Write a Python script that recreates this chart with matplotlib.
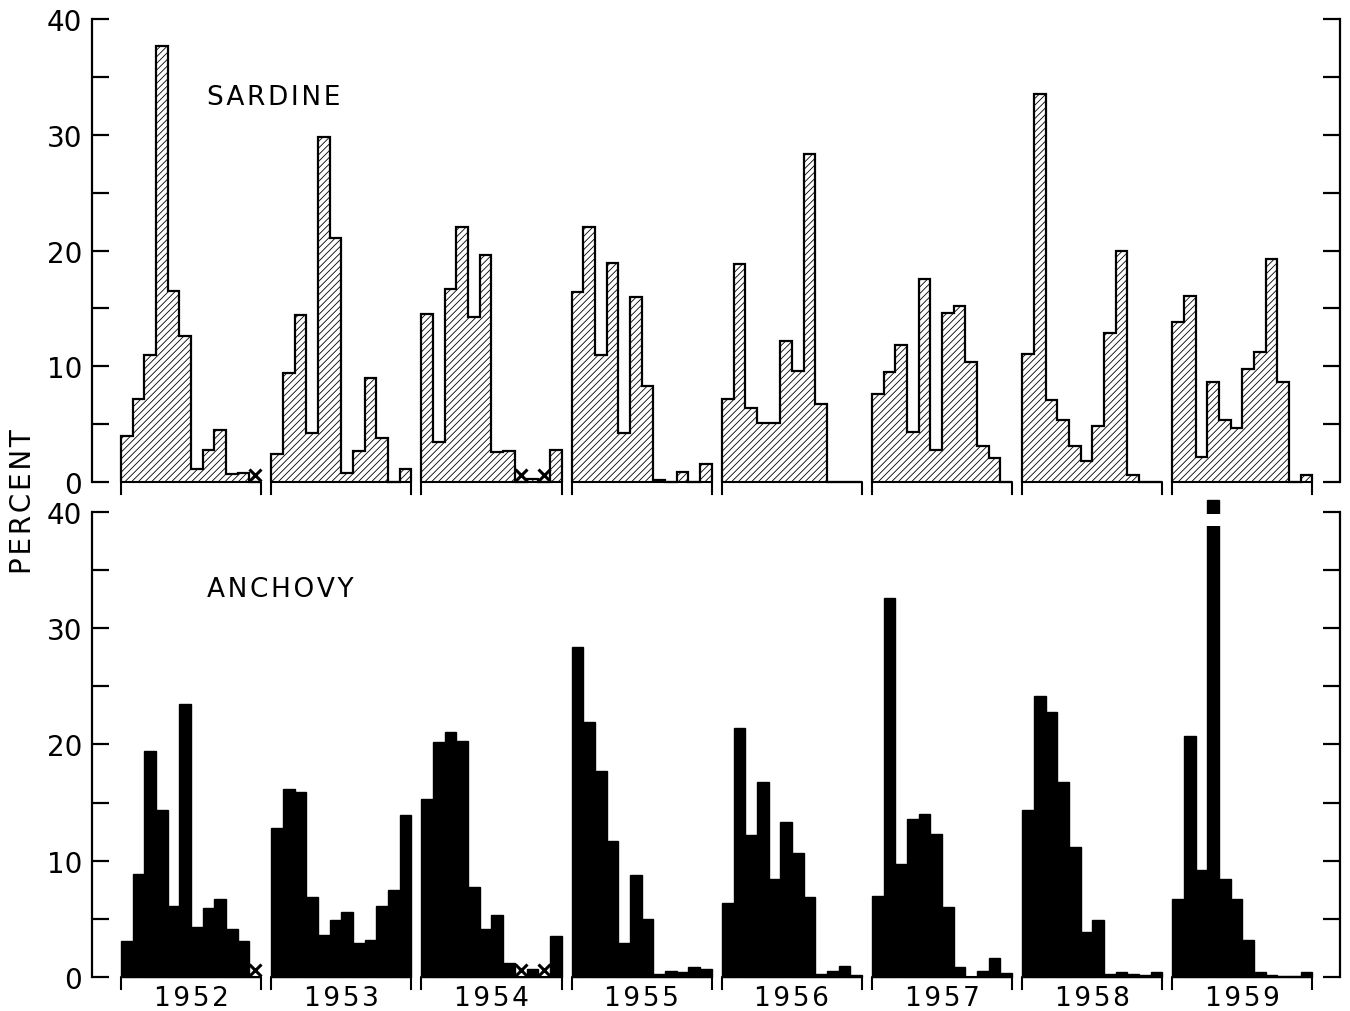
import numpy as np
import matplotlib
matplotlib.use("Agg")
import matplotlib.pyplot as plt
from matplotlib.patches import Rectangle

# monthly percentages, Jan..Dec; nan = no sample (drawn as "x")
years = [1952, 1953, 1954, 1955, 1956, 1957, 1958, 1959]

sardine_1952 = [4.0, 7.2, 11.0, 37.7, 16.5, 12.6, 1.1, 2.8, 4.5, 0.7, 0.8, np.nan]
sardine_1953 = [2.4, 9.4, 14.4, 4.2, 29.8, 21.1, 0.8, 2.7, 9.0, 3.8, 0.0, 1.1]
sardine_1954 = [14.5, 3.5, 16.7, 22.0, 14.3, 19.6, 2.6, 2.7, np.nan, 0.3, np.nan, 2.8]
sardine_1955 = [16.4, 22.0, 11.0, 18.9, 4.2, 16.0, 8.3, 0.15, 0.0, 0.85, 0.0, 1.6]
sardine_1956 = [7.2, 18.8, 6.4, 5.1, 5.1, 12.2, 9.6, 28.3, 6.7, 0.0, 0.0, 0.0]
sardine_1957 = [7.6, 9.5, 11.8, 4.3, 17.5, 2.8, 14.6, 15.2, 10.4, 3.1, 2.1, 0.0]
sardine_1958 = [11.1, 33.5, 7.1, 5.4, 3.1, 1.8, 4.8, 12.9, 20.0, 0.6, 0.0, 0.0]
sardine_1959 = [13.8, 16.1, 2.2, 8.6, 5.4, 4.7, 9.8, 11.2, 19.3, 8.6, 0.0, 0.6]

anchovy_1952 = [3.1, 8.9, 19.4, 14.4, 6.1, 23.5, 4.3, 5.9, 6.7, 4.1, 3.1, np.nan]
anchovy_1953 = [12.8, 16.2, 15.9, 6.9, 3.6, 4.9, 5.6, 2.9, 3.2, 6.1, 7.5, 13.9]
anchovy_1954 = [15.3, 20.2, 21.1, 20.3, 7.7, 4.1, 5.3, 1.2, np.nan, 0.7, np.nan, 3.5]
anchovy_1955 = [28.4, 21.9, 17.7, 11.7, 2.95, 8.8, 5.0, 0.3, 0.5, 0.4, 0.85, 0.7]
anchovy_1956 = [6.4, 21.4, 12.2, 16.8, 8.4, 13.3, 10.7, 6.9, 0.3, 0.55, 0.95, 0.2]
anchovy_1957 = [7.0, 32.6, 9.7, 13.6, 14.0, 12.3, 6.0, 0.9, 0.0, 0.5, 1.6, 0.35]
anchovy_1958 = [14.4, 24.2, 22.8, 16.8, 11.2, 3.9, 4.9, 0.25, 0.4, 0.3, 0.15, 0.4]
anchovy_1959 = [6.7, 20.7, 9.2, 41.0, 8.4, 6.7, 3.15, 0.4, 0.2, 0.1, 0.1, 0.4]

sardine = [sardine_1952, sardine_1953, sardine_1954, sardine_1955,
           sardine_1956, sardine_1957, sardine_1958, sardine_1959]
anchovy = [anchovy_1952, anchovy_1953, anchovy_1954, anchovy_1955,
           anchovy_1956, anchovy_1957, anchovy_1958, anchovy_1959]

YMAX = 40
PITCH = 12.87   # year block spacing in month units
HAIR = '\u200a'

plt.rcParams['hatch.linewidth'] = 0.6
plt.rcParams['font.family'] = ['DejaVu Sans']

fig = plt.figure(figsize=(13.5, 10.12), dpi=100)
ax_top = fig.add_axes([0.0681, 0.5227, 0.9244, 0.4575])
ax_bot = fig.add_axes([0.0681, 0.0336, 0.9244, 0.4595])


def spaced(s):
    return HAIR.join(s)


def draw_panel(ax, data, filled):
    for i, vals in enumerate(data):
        vals = np.array(vals, dtype=float)
        x0 = i * PITCH
        edges = x0 + np.arange(13)
        heights = np.nan_to_num(vals, nan=0.0)
        if filled:
            ax.bar(edges[:-1], heights, width=1.0, align='edge', color='black',
                   edgecolor='black', linewidth=1.0, clip_on=False)
        else:
            ax.stairs(heights, edges, baseline=0, fill=True, facecolor='white',
                      edgecolor='black', hatch='/////', linewidth=1.6,
                      clip_on=False)
        # missing months
        miss = np.where(np.isnan(vals))[0]
        if len(miss):
            ax.plot(x0 + miss + 0.5, np.full(len(miss), 0.6), linestyle='none',
                    marker='x', ms=8, mew=2.2, color='black', clip_on=False)
        # values beyond the axis: broken bar
        for m in np.where(heights > YMAX)[0]:
            ax.add_patch(Rectangle((x0 + m - 0.2, YMAX - 1.2), 1.4, 1.0,
                                   facecolor='white', edgecolor='none',
                                   clip_on=False, zorder=5))
        # year bracket
        ax.plot([x0, x0, x0 + 12, x0 + 12], [-1.0, 0, 0, -1.0], color='black',
                lw=1.5, clip_on=False)


def style_axis(ax):
    ax.set_xlim(-2.5, 7 * PITCH + 12 + 2.35)
    ax.set_ylim(0, YMAX)
    for side in ['top', 'bottom']:
        ax.spines[side].set_visible(False)
    for side in ['left', 'right']:
        ax.spines[side].set_linewidth(1.6)
    ticks = np.arange(0, YMAX + 1, 5)
    ax.set_yticks(ticks)
    ax.set_yticklabels([str(t) if t % 10 == 0 else '' for t in ticks])
    ax.tick_params(axis='y', direction='in', length=12, width=1.6,
                   left=True, right=True, labelsize=20, pad=7)
    ax.set_xticks([])


draw_panel(ax_top, sardine, filled=False)
draw_panel(ax_bot, anchovy, filled=True)
style_axis(ax_top)
style_axis(ax_bot)

ax_top.text(0.092, 0.831, spaced('SARDINE'), transform=ax_top.transAxes,
            fontsize=19, ha='left', va='center')
ax_bot.text(0.092, 0.834, spaced('ANCHOVY'), transform=ax_bot.transAxes,
            fontsize=19, ha='left', va='center')

for i, yr in enumerate(years):
    ax_bot.annotate(spaced(str(yr)), xy=(i * PITCH + 6, 0), xycoords='data',
                    xytext=(0, -15), textcoords='offset points',
                    ha='center', va='center', fontsize=19, annotation_clip=False)

fig.text(23 / 1350, 1 - 502 / 1012, spaced('PERCENT'), rotation=90, fontsize=20,
         ha='center', va='center')

fig.savefig('out.png', dpi=100)
